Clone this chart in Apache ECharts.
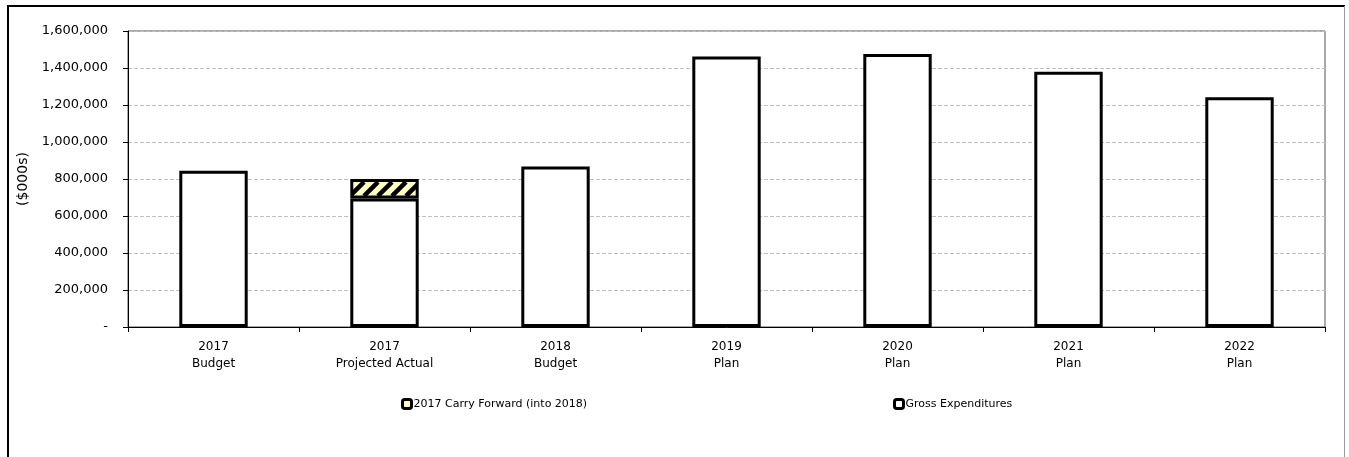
<!DOCTYPE html>
<html>
<head>
<meta charset="utf-8">
<script src="https://cdn.jsdelivr.net/npm/echarts@6/dist/echarts.min.js"></script>
<style>
  html, body { margin: 0; padding: 0; background: #fff; }
  #chart { width: 1349px; height: 457px; }
</style>
</head>
<body>
<div id="chart"></div>
<script>
'use strict';

var categories = ['2017\nBudget', '2017\nProjected Actual', '2018\nBudget', '2019\nPlan', '2020\nPlan', '2021\nPlan', '2022\nPlan'];
var grossExpenditures = [845000, 695000, 868000, 1462000, 1476000, 1380000, 1242000];
var carryForward = [null, 105000, null, null, null, null, null];
var seriesNames = ['2017 Carry Forward (into 2018)', 'Gross Expenditures'];

var font = 'DejaVu Sans';

// yellow hatch for the carry forward piece
var makeHatch = function() {
  var c = document.createElement('canvas');
  c.width = 14;
  c.height = 14;
  var ctx = c.getContext('2d');
  ctx.fillStyle = '#ffffc4';
  ctx.fillRect(0, 0, 14, 14);
  ctx.strokeStyle = '#000';
  ctx.lineWidth = 4.5;
  ctx.beginPath();
  for (var k = -14; k <= 28; k += 14) {
    ctx.moveTo(k, 14);
    ctx.lineTo(k + 14, 0);
  }
  ctx.stroke();
  return c;
};

var chart = echarts.init(document.getElementById('chart'));

var fmt = function(v) {
  if (v === 0) { return '-'; }
  return v.toString().replace(/\B(?=(\d{3})+(?!\d))/g, ',');
};

var legendBase = function(name, fill, left) {
  return {
    data: [{ name: name, itemStyle: { color: fill, borderColor: '#000', borderWidth: 3 } }],
    left: left, top: 393,
    itemWidth: 9, itemHeight: 9, itemGap: 2,
    textStyle: { fontFamily: font, fontSize: 11, color: '#000', padding: [0, 0, 0, -3] }
  };
};

chart.setOption({
  animation: false,
  textStyle: { fontFamily: font },
  grid: {
    left: 128, right: 24, top: 31, bottom: 130,
    show: true, borderColor: '#555', borderWidth: 1
  },
  legend: [
    legendBase(seriesNames[0], '#ffffc4', 396),
    legendBase(seriesNames[1], '#fff', 888)
  ],
  xAxis: {
    type: 'category',
    data: categories,
    axisLine: { lineStyle: { color: '#000', width: 1 } },
    axisTick: { show: true, length: 5, lineStyle: { color: '#000' } },
    axisLabel: { color: '#000', fontSize: 12, lineHeight: 17, margin: 11 }
  },
  yAxis: {
    type: 'value',
    min: 0, max: 1600000, interval: 200000,
    name: '($000s)',
    nameLocation: 'middle',
    nameGap: 98,
    nameTextStyle: { color: '#000', fontSize: 14, fontFamily: font },
    axisLine: { show: true, lineStyle: { color: '#000' } },
    axisTick: { show: true, length: 5, lineStyle: { color: '#000' } },
    axisLabel: { color: '#000', fontSize: 13, margin: 20, formatter: fmt },
    splitLine: { lineStyle: { color: '#c0c0c0', type: [4, 2] } }
  },
  series: [
    {
      name: seriesNames[1],
      type: 'bar',
      stack: 'total',
      barWidth: '40%',
      data: grossExpenditures,
      itemStyle: { color: '#fff', borderColor: '#000', borderWidth: 3 }
    },
    {
      name: seriesNames[0],
      type: 'bar',
      stack: 'total',
      data: carryForward,
      itemStyle: {
        color: { image: makeHatch(), repeat: 'repeat' },
        borderColor: '#000', borderWidth: 3
      }
    }
  ],
  graphic: [
    { type: 'line', shape: { x1: 8, y1: 6, x2: 1345, y2: 6 }, style: { stroke: '#000', lineWidth: 2 } },
    { type: 'line', shape: { x1: 8, y1: 5, x2: 8, y2: 457 }, style: { stroke: '#000', lineWidth: 2 } },
    { type: 'line', shape: { x1: 1344.5, y1: 6, x2: 1344.5, y2: 457 }, style: { stroke: '#999', lineWidth: 1 } }
  ]
});
</script>
</body>
</html>
